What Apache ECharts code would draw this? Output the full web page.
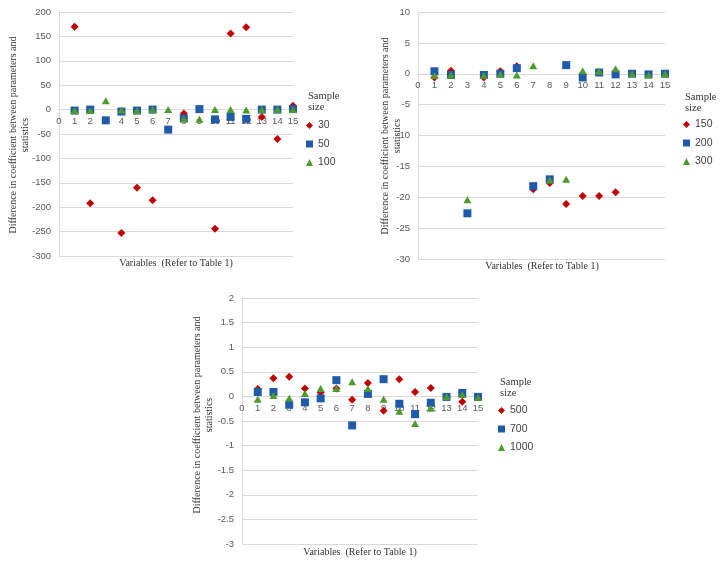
<!DOCTYPE html>
<html>
<head>
<meta charset="utf-8">
<script src="https://cdn.jsdelivr.net/npm/echarts@6/dist/echarts.min.js"></script>
<style>
html,body{margin:0;padding:0;background:#fff;}
#chart{width:721px;height:564px;}
</style>
</head>
<body>
<div id="chart"></div>
<script>
// Variables (x positions)
const variables = [1,2,3,4,5,6,7,8,9,10,11,12,13,14,15];

// Chart 1: sample sizes 30, 50, 100
const names1 = ['30','50','100'];
const s30  = [170, -192, null, -253, -160, -186, null, -8, null, -244, 156, 169, -15, -60, 8];
const s50  = [-2, 0, -22, -4, -2, 0, -41, -18, 1, -20, -15, -19, 0, 0, 1];
const s100 = [-2, -2, 18, -1, -2, 0, 0, -19, -20, 0, 0, -1, 0, 0, 0];
const yTicks1 = {min: -300, max: 200, interval: 50};

// Chart 2: sample sizes 150, 200, 300
const names2 = ['150','200','300'];
const s150 = [-0.6, 0.5, null, -0.6, 0.4, 1.2, -18.7, -17.7, -21.1, -19.8, -19.8, -19.2, null, null, null];
const s200 = [0.4, -0.2, -22.6, -0.2, 0, 0.9, -18.2, -17.1, 1.4, -0.6, 0.2, -0.1, 0, -0.1, 0];
const s300 = [-0.3, -0.2, -20.4, -0.3, -0.1, -0.2, 1.3, -17.2, -17.1, 0.5, 0.4, 0.8, 0, -0.2, 0];
const yTicks2 = {min: -30, max: 10, interval: 5};

// Chart 3: sample sizes 500, 700, 1000
const names3 = ['500','700','1000'];
const s500  = [0.15, 0.37, 0.4, 0.16, 0.08, 0.16, -0.07, 0.27, -0.29, 0.35, 0.09, 0.17, null, -0.11, null];
const s700  = [0.09, 0.09, -0.17, -0.12, -0.04, 0.33, -0.59, 0.05, 0.35, -0.15, -0.36, -0.13, -0.01, 0.07, -0.01];
const s1000 = [-0.06, 0.02, -0.04, 0.06, 0.16, 0.16, 0.3, 0.16, -0.06, -0.3, -0.55, -0.24, 0, 0.04, -0.02];
const yTicks3 = {min: -3, max: 2, interval: 0.5};

const xTicks = {min: 0, max: 15, interval: 1};

const yTitle = 'Difference in coefficient between parameters and\nstatistics';
const xTitle = 'Variables  (Refer to Table 1)';
const legendTitle = 'Sample\nsize';

const RED = '#C00000', BLUE = '#1F5BAA', GREEN = '#4E9A2C';
const symbols = ['diamond','rect','triangle'];
const colors = [RED, BLUE, GREEN];
const sizes = [8, 8, [8,7]];

function pts(vals){
  const out = [];
  vals.forEach((v,i)=>{ if(v!==null) out.push([variables[i], v]); });
  return out;
}

const grids = [
  {left: 59, top: 12, width: 234, height: 244},
  {left: 418, top: 12, width: 247, height: 247},
  {left: 242, top: 298, width: 236, height: 246}
];
const yTickSets = [yTicks1, yTicks2, yTicks3];
const seriesSets = [[s30,s50,s100],[s150,s200,s300],[s500,s700,s1000]];
const nameSets = [names1, names2, names3];

const tickFont = {fontFamily: 'Liberation Sans', fontSize: 9.5, color: '#595959'};
const gridColor = '#D9D9D9';

// place the x axis at y = 0 of each panel (offset from the bottom edge)
const xAxes = grids.map((g,i)=>{
  const t = yTickSets[i];
  const zeroOffset = -g.height * (0 - t.min) / (t.max - t.min);
  return {
    type: 'value', gridIndex: i, min: xTicks.min, max: xTicks.max, interval: xTicks.interval,
    position: 'bottom', offset: zeroOffset,
    axisLine: {show: true, onZero: false, lineStyle: {color: gridColor}},
    axisTick: {show: false},
    splitLine: {show: false},
    axisLabel: Object.assign({margin: 7}, tickFont)
  };
});
const yAxes = grids.map((g,i)=>({
  type: 'value', gridIndex: i, min: yTickSets[i].min, max: yTickSets[i].max, interval: yTickSets[i].interval,
  axisLine: {show: true, onZero: false, lineStyle: {color: gridColor}},
  axisTick: {show: false},
  splitLine: {show: true, lineStyle: {color: gridColor}},
  axisLabel: Object.assign({margin: 8}, tickFont)
}));

const series = [];
seriesSets.forEach((set, gi)=>{
  set.forEach((vals, si)=>{
    series.push({
      type: 'scatter', name: nameSets[gi][si], xAxisIndex: gi, yAxisIndex: gi,
      symbol: symbols[si], symbolSize: sizes[si],
      itemStyle: {color: colors[si], opacity: 1},
      data: pts(vals)
    });
  });
});

const legendPos = [
  {left: 306, top: 120},
  {left: 683, top: 119},
  {left: 498, top: 405}
];
const legends = legendPos.map((p,gi)=>({
  left: p.left, top: p.top, orient: 'vertical', selectedMode: false,
  itemWidth: 7, itemHeight: 7, itemGap: 7.5, padding: 0,
  textStyle: {fontFamily: 'Liberation Sans', fontSize: 10.5, color: '#404040'},
  data: nameSets[gi].map((n,si)=>({name: n, icon: symbols[si]}))
}));

const serif = 'Liberation Serif';
const yNamePos = [[19,135],[391,136],[203,415]];
const xNamePos = [[176,263],[542,266],[360,552]];
const legTitlePos = [[308,91],[685,92],[500,377]];
const graphic = [];
yNamePos.forEach(p=>graphic.push({
  type: 'text', x: p[0], y: p[1], rotation: Math.PI/2,
  style: {text: yTitle, font: '10px "' + serif + '"', fill: '#333', align: 'center', verticalAlign: 'middle', lineHeight: 12}
}));
xNamePos.forEach(p=>graphic.push({
  type: 'text', x: p[0], y: p[1],
  style: {text: xTitle, font: '10px "' + serif + '"', fill: '#333', align: 'center', verticalAlign: 'middle'}
}));
legTitlePos.forEach(p=>graphic.push({
  type: 'text', x: p[0], y: p[1],
  style: {text: legendTitle, font: '10.5px "' + serif + '"', fill: '#333', align: 'left', verticalAlign: 'top', lineHeight: 11}
}));

const chart = echarts.init(document.getElementById('chart'));
chart.setOption({
  animation: false,
  backgroundColor: '#fff',
  grid: grids,
  xAxis: xAxes,
  yAxis: yAxes,
  legend: legends,
  series: series,
  graphic: graphic
});
</script>
</body>
</html>
